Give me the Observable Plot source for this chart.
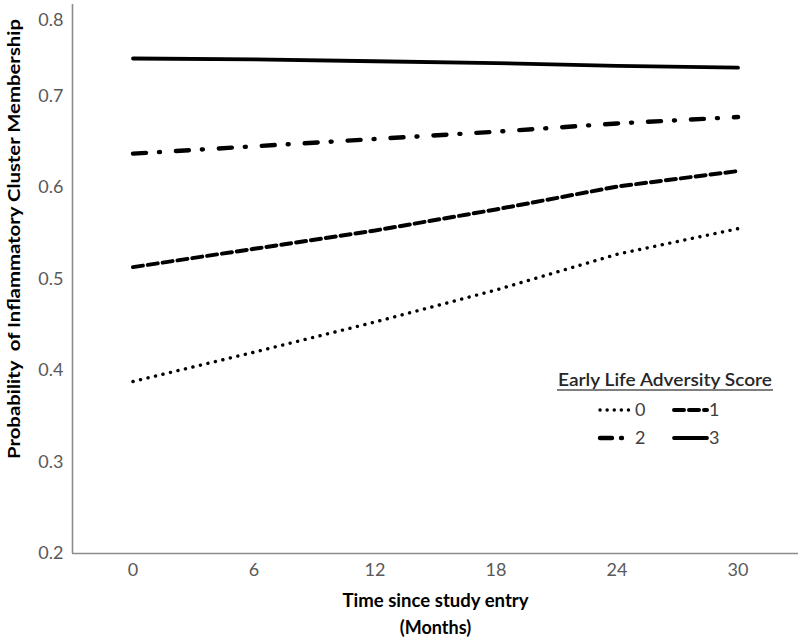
<!DOCTYPE html>
<html>
<head>
<meta charset="utf-8">
<script src="https://cdn.jsdelivr.net/npm/d3@7"></script>
<script src="https://cdn.jsdelivr.net/npm/@observablehq/plot@0.6"></script>
<style>
  html, body { margin: 0; padding: 0; background: #fff; }
  #wrap { position: relative; width: 800px; height: 641px; font-family: Lato, sans-serif; }
  #legend { position: absolute; left: 0; top: 0; pointer-events: none; }
</style>
</head>
<body>
<div id="wrap"></div>
<script>
// Data
const months = [0, 6, 12, 18, 24, 30];
const scores = ["0", "1", "2", "3"];
const score0 = [0.388, 0.420, 0.453, 0.488, 0.527, 0.555];
const score1 = [0.513, 0.533, 0.553, 0.576, 0.601, 0.618];
const score2 = [0.637, 0.645, 0.653, 0.661, 0.670, 0.677];
const score3 = [0.741, 0.740, 0.738, 0.736, 0.733, 0.731];
const yTicks = [0.2, 0.3, 0.4, 0.5, 0.6, 0.7, 0.8];
const xDomain = [-3, 33];
const yDomain = [0.2, 0.8];

const seriesValues = [score0, score1, score2, score3];
const styles = {
  "0": {dash: "0.1,7.6", width: 3.4, cap: "round"},
  "1": {dash: "10,5", width: 4, cap: "round"},
  "2": {dash: "13,13,1,16", width: 4.4, cap: "round"},
  "3": {dash: null, width: 3.8, cap: "round"}
};
const legendDash = {"0": "0.1,7", "1": "10,5", "2": "12,9,1,30", "3": null};

const rows = [];
scores.forEach((s, i) => months.forEach((m, j) => rows.push({score: s, month: m, p: seriesValues[i][j]})));

const lineMarks = scores.map(s => Plot.line(rows.filter(d => d.score === s), {
  x: "month", y: "p", stroke: "#000", strokeWidth: styles[s].width,
  strokeDasharray: styles[s].dash, strokeLinecap: styles[s].cap, curve: "linear"
}));

const yTitle = "Probability  of Inflammatory Cluster Membership";
const chart = Plot.plot({
  width: 800, height: 641,
  marginLeft: 72, marginRight: 2, marginTop: 4, marginBottom: 88,
  style: {fontFamily: "Lato, sans-serif", fontSize: "18px", background: "#fff"},
  x: {domain: xDomain, ticks: months},
  y: {domain: yDomain, ticks: yTicks},
  marks: [
    Plot.axisX({ticks: months, tickSize: 0, tickPadding: 10, fontSize: 18, fill: "#595959", label: null, tickFormat: d => String(d)}),
    Plot.axisY({ticks: yTicks, tickSize: 0, tickPadding: 9, fontSize: 18, fill: "#595959", label: null, tickFormat: d3.format(".1f")}),
    Plot.ruleY([yDomain[0]], {stroke: "#8c8c8c", strokeWidth: 1.6}),
    Plot.ruleX([xDomain[0]], {stroke: "#8c8c8c", strokeWidth: 1.6}),
    ...lineMarks,
    Plot.text([yTitle], {frameAnchor: "left", textAnchor: "middle", rotate: -90, dx: -58, dy: -40, fontSize: 17, fontWeight: "bold", fill: "#000"}),
    Plot.text(["Time since study entry"], {frameAnchor: "bottom", dy: 53, fontSize: 18, fontWeight: "bold", fill: "#000"}),
    Plot.text(["(Months)"], {frameAnchor: "bottom", dy: 80, fontSize: 18, fontWeight: "bold", fill: "#000"})
  ]
});
document.getElementById("wrap").appendChild(chart);

// fit text widths to the reference
d3.select(chart).selectAll("text").each(function() {
  const t = d3.select(this);
  if (t.text() === yTitle) t.attr("textLength", 440).attr("lengthAdjust", "spacingAndGlyphs");
  if (t.text() === "Time since study entry") t.attr("textLength", 186).attr("lengthAdjust", "spacingAndGlyphs");
  if (t.text() === "0.8") t.attr("dy", "0.9em");
});

// Legend overlay
const lg = d3.select("#wrap").append("svg").attr("id", "legend").attr("width", 800).attr("height", 641);
lg.append("text").attr("x", 665).attr("y", 386).attr("text-anchor", "middle")
  .attr("font-family", "Lato, sans-serif").attr("font-size", 18).attr("font-weight", 600)
  .attr("fill", "#262626").attr("textLength", 214).attr("lengthAdjust", "spacingAndGlyphs")
  .text("Early  Life Adversity  Score");
lg.append("line").attr("x1", 557).attr("x2", 773).attr("y1", 390).attr("y2", 390).attr("stroke", "#555").attr("stroke-width", 1.5);
const legendItems = [
  {s: "0", x: 599, y: 410}, {s: "1", x: 673, y: 410},
  {s: "2", x: 599, y: 438}, {s: "3", x: 673, y: 438}
];
legendItems.forEach(it => {
  const st = styles[it.s];
  lg.append("line").attr("x1", it.x + 1).attr("x2", it.x + 34).attr("y1", it.y).attr("y2", it.y)
    .attr("stroke", "#000").attr("stroke-width", st.width)
    .attr("stroke-dasharray", legendDash[it.s])
    .attr("stroke-linecap", st.cap);
  lg.append("text").attr("x", it.x + 36).attr("y", it.y + 6).attr("font-family", "Lato, sans-serif")
    .attr("font-size", 18).attr("fill", "#404040").text(it.s);
});
</script>
</body>
</html>
